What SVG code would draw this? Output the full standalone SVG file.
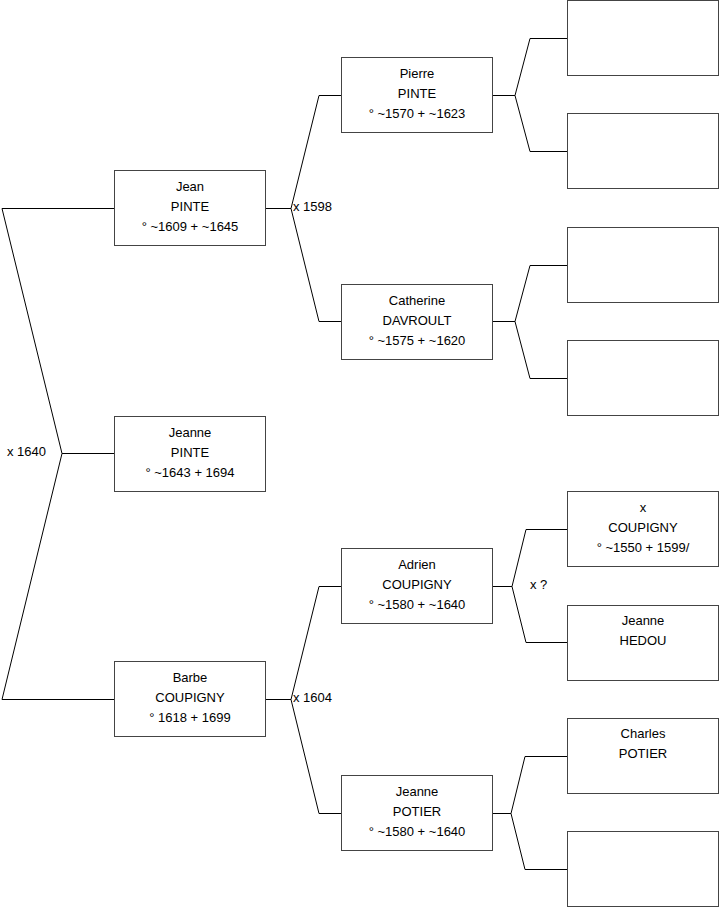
<svg xmlns="http://www.w3.org/2000/svg" width="719" height="908" viewBox="0 0 719 908">
<style>
.b{fill:#fff;stroke:#444;stroke-width:1}
.c{fill:none;stroke:#000;stroke-width:1}
text{font-family:"Liberation Sans",Arial,sans-serif;font-size:13px;fill:#000}
.m{text-anchor:middle}
</style>
<rect width="719" height="908" fill="#fff"/>
<g id="connectors">
<path class="c" d="M114.5,208.5 H2 L62,453.5 L2,699.5 H114.5 M62,453.5 H114.5"/>
<path class="c" d="M265,208.5 H291 M341,95.5 H319 L291,208.5 L319,321.5 H341"/>
<path class="c" d="M265,699.5 H291 M341,586.5 H319 L291,699.5 L319,813.5 H341"/>
<path class="c" d="M492,95.5 H515 M567,38.5 H530 L515,95.5 L530,151.5 H567"/>
<path class="c" d="M492,321.5 H515 M567,265.5 H530 L515,321.5 L530,378.5 H567"/>
<path class="c" d="M492,586.5 H512 M567,529.5 H526 L512,586.5 L526,642.5 H567"/>
<path class="c" d="M492,813.5 H511 M567,756.5 H525 L511,813.5 L525,869.5 H567"/>
<text x="7" y="456">x 1640</text>
<text x="293" y="211">x 1598</text>
<text x="293" y="702">x 1604</text>
<text x="530" y="589">x ?</text>
</g>
<g id="jean"><rect class="b" x="114.5" y="170.5" width="151" height="75"/>
<text class="m" x="190" y="191">Jean</text><text class="m" x="190" y="211">PINTE</text><text class="m" x="190" y="231">° ~1609 + ~1645</text></g>
<g id="jeanne"><rect class="b" x="114.5" y="416.5" width="151" height="75"/>
<text class="m" x="190" y="437">Jeanne</text><text class="m" x="190" y="457">PINTE</text><text class="m" x="190" y="477">° ~1643 + 1694</text></g>
<g id="barbe"><rect class="b" x="114.5" y="661.5" width="151" height="75"/>
<text class="m" x="190" y="682">Barbe</text><text class="m" x="190" y="702">COUPIGNY</text><text class="m" x="190" y="722">° 1618 + 1699</text></g>
<g id="pierre"><rect class="b" x="341.5" y="57.5" width="151" height="75"/>
<text class="m" x="417" y="78">Pierre</text><text class="m" x="417" y="98">PINTE</text><text class="m" x="417" y="118">° ~1570 + ~1623</text></g>
<g id="catherine"><rect class="b" x="341.5" y="284.5" width="151" height="75"/>
<text class="m" x="417" y="305">Catherine</text><text class="m" x="417" y="325">DAVROULT</text><text class="m" x="417" y="345">° ~1575 + ~1620</text></g>
<g id="adrien"><rect class="b" x="341.5" y="548.5" width="151" height="75"/>
<text class="m" x="417" y="569">Adrien</text><text class="m" x="417" y="589">COUPIGNY</text><text class="m" x="417" y="609">° ~1580 + ~1640</text></g>
<g id="jeanne-potier"><rect class="b" x="341.5" y="775.5" width="151" height="75"/>
<text class="m" x="417" y="796">Jeanne</text><text class="m" x="417" y="816">POTIER</text><text class="m" x="417" y="836">° ~1580 + ~1640</text></g>
<g id="g3a"><rect class="b" x="567.5" y="0.5" width="151" height="75"/></g>
<g id="g3b"><rect class="b" x="567.5" y="113.5" width="151" height="75"/></g>
<g id="g3c"><rect class="b" x="567.5" y="227.5" width="151" height="75"/></g>
<g id="g3d"><rect class="b" x="567.5" y="340.5" width="151" height="75"/></g>
<g id="x-coupigny"><rect class="b" x="567.5" y="491.5" width="151" height="75"/>
<text class="m" x="643" y="512">x</text><text class="m" x="643" y="532">COUPIGNY</text><text class="m" x="643" y="552">° ~1550 + 1599/</text></g>
<g id="jeanne-hedou"><rect class="b" x="567.5" y="605.5" width="151" height="75"/>
<text class="m" x="643" y="625">Jeanne</text><text class="m" x="643" y="645">HEDOU</text></g>
<g id="charles-potier"><rect class="b" x="567.5" y="718.5" width="151" height="75"/>
<text class="m" x="643" y="738">Charles</text><text class="m" x="643" y="758">POTIER</text></g>
<g id="g3h"><rect class="b" x="567.5" y="831.5" width="151" height="75"/></g>
</svg>
